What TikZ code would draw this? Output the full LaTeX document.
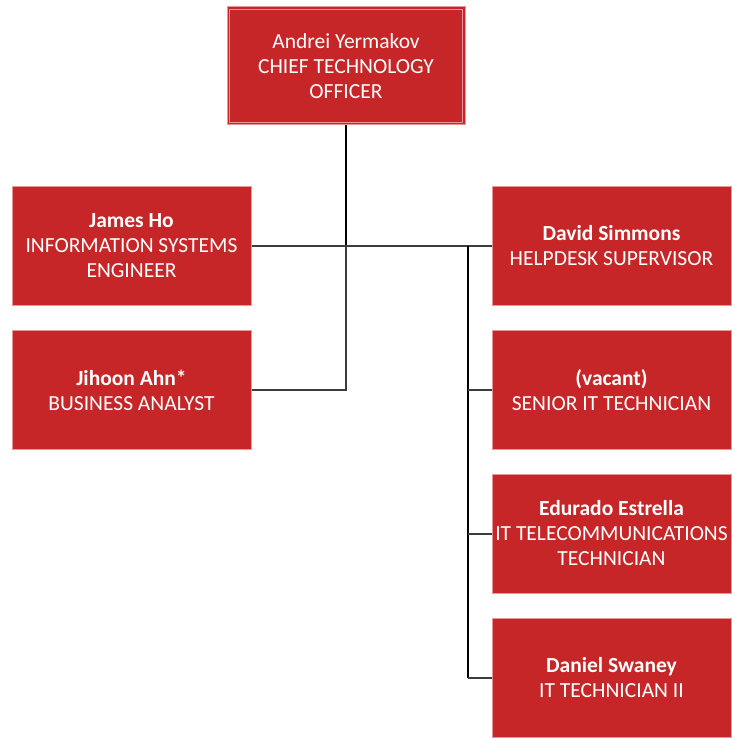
\documentclass[tikz,border=0pt]{standalone}
\usepackage{fontspec}
\setmainfont{Carlito}
\definecolor{boxred}{RGB}{198,38,40}
\definecolor{boxedge}{RGB}{232,150,150}
\definecolor{linegray}{RGB}{60,60,60}
\begin{document}
\begin{tikzpicture}[x=1pt,y=-1pt,
  card/.style={rectangle, fill=boxred, draw=boxedge, line width=1pt,
    minimum width=239pt, minimum height=119pt, text=white, align=center,
    font=\fontsize{21.5}{25}\selectfont, inner sep=0pt},
  conn/.style={line width=2pt, draw=linegray},
  connb/.style={line width=2pt, draw=black}]
\useasboundingbox (0,0) rectangle (731,738);
\node[card, minimum width=238pt, minimum height=118pt] (cto) at (346,66)
  {Andrei Yermakov\\CHIEF TECHNOLOGY\\OFFICER};
\draw[boxedge, line width=1pt] ([xshift=3pt,yshift=3pt]cto.south west) rectangle ([xshift=-3pt,yshift=-3pt]cto.north east);
\node[card] (james) at (131.5,245.5) {\textbf{James Ho}\\INFORMATION SYSTEMS\\ENGINEER};
\node[card] (jihoon) at (131.5,390) {\textbf{Jihoon Ahn*}\\BUSINESS ANALYST};
\node[card] (david) at (611.5,245.5) {\textbf{David Simmons}\\HELPDESK SUPERVISOR};
\node[card] (vacant) at (611.5,390) {\textbf{(vacant)}\\SENIOR IT TECHNICIAN};
\node[card] (edurado) at (611.5,533.5) {\textbf{Edurado Estrella}\\IT TELECOMMUNICATIONS\\TECHNICIAN};
\node[card] (daniel) at (611.5,678) {\textbf{Daniel Swaney}\\IT TECHNICIAN II};
\coordinate (hub) at (346,245.5);
\coordinate (bus) at (468,245.5);
\draw[connb] (cto.south) -- (hub);
\draw[conn] (james.east) -- (david.west);
\draw[conn] (hub) |- (jihoon.east);
\draw[connb] (bus) -- (bus |- daniel.west);
\draw[conn] (bus |- vacant.west) -- (vacant.west);
\draw[conn] (bus |- edurado.west) -- (edurado.west);
\draw[conn] (bus |- daniel.west) -- (daniel.west);
\end{tikzpicture}
\end{document}
